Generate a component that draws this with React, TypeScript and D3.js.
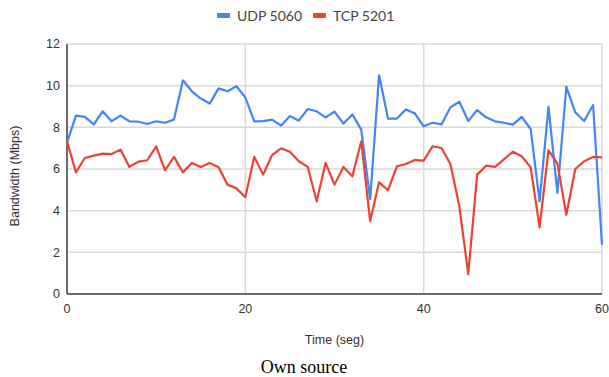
import React from "react";
import * as d3 from "d3";

// Seconds of the capture, one sample per second
const seconds: number[] = d3.range(0, 61);

// Measured bandwidth (Mbps) per second
const udp5060: number[] = [
  7.25, 8.56, 8.5, 8.14, 8.77, 8.29, 8.56, 8.29, 8.27, 8.16,
  8.29, 8.22, 8.37, 10.26, 9.73, 9.38, 9.14, 9.87, 9.73, 9.97,
  9.43, 8.29, 8.3, 8.37, 8.08, 8.54, 8.32, 8.88, 8.77, 8.48,
  8.75, 8.18, 8.62, 7.89, 4.55, 10.5, 8.42, 8.42, 8.86, 8.67,
  8.05, 8.22, 8.14, 8.96, 9.23, 8.3, 8.83, 8.48, 8.29, 8.22,
  8.13, 8.5, 7.92, 4.45, 8.98, 4.85, 9.94, 8.72, 8.3, 9.07,
  2.37,
];
const tcp5201: number[] = [
  7.33, 5.84, 6.53, 6.64, 6.74, 6.72, 6.93, 6.1, 6.35, 6.42,
  7.09, 5.94, 6.58, 5.84, 6.29, 6.1, 6.29, 6.08, 5.25, 5.07,
  4.64, 6.58, 5.73, 6.67, 6.99, 6.83, 6.37, 6.1, 4.45, 6.29,
  5.25, 6.1, 5.65, 7.33, 3.5, 5.36, 4.98, 6.13, 6.24, 6.43,
  6.4, 7.09, 7.01, 6.24, 4.21, 0.95, 5.73, 6.16, 6.1, 6.46,
  6.83, 6.61, 6.08, 3.2, 6.9, 6.26, 3.8, 6.0, 6.37, 6.58,
  6.56,
];

const seriesNames: string[] = ["UDP 5060", "TCP 5201"];
const seriesColors: string[] = ["#4285F4", "#EA4335"];
const xTicks: number[] = [0, 20, 40, 60];
const yTicks: number[] = [0, 2, 4, 6, 8, 10, 12];

const W = 609;
const H = 377;
const plot = { left: 67, right: 602, top: 44, bottom: 294 };
const sans = "'Liberation Sans', Arial, sans-serif";
const legendFont = "Lato, 'Liberation Sans', sans-serif";

export default function App() {
  const x = d3.scaleLinear().domain([0, 60]).range([plot.left, plot.right]);
  const y = d3.scaleLinear().domain([0, 12]).range([plot.bottom, plot.top]);

  const line = d3
    .line<number>()
    .x((_, i) => x(seconds[i]))
    .y((v) => y(v));

  const series = [udp5060, tcp5201];

  return (
    <svg
      width={W}
      height={H}
      style={{ position: "absolute", left: 0, top: 0, background: "#fff" }}
    >
      {/* horizontal grid */}
      {yTicks.map((t) => (
        <line
          key={"gy" + t}
          x1={plot.left}
          x2={plot.right}
          y1={y(t)}
          y2={y(t)}
          stroke="#d9d9d9"
          strokeWidth={1.5}
        />
      ))}
      {/* vertical grid */}
      {xTicks.map((t) => (
        <line
          key={"gx" + t}
          x1={x(t)}
          x2={x(t)}
          y1={plot.top}
          y2={plot.bottom}
          stroke="#d9d9d9"
          strokeWidth={1.5}
        />
      ))}
      {/* axes */}
      <line x1={plot.left} x2={plot.right} y1={plot.bottom} y2={plot.bottom} stroke="#444" strokeWidth={1.5} />
      <line x1={plot.left} x2={plot.left} y1={plot.top} y2={plot.bottom} stroke="#444" strokeWidth={1.5} />

      {/* y tick labels */}
      {yTicks.map((t) => (
        <text
          key={"ly" + t}
          x={plot.left - 7}
          y={y(t)}
          dy="0.35em"
          textAnchor="end"
          fontFamily={sans}
          fontSize={12.5}
          fill="#333"
        >
          {t}
        </text>
      ))}
      {/* x tick labels */}
      {xTicks.map((t) => (
        <text
          key={"lx" + t}
          x={x(t)}
          y={plot.bottom + 19}
          textAnchor="middle"
          fontFamily={sans}
          fontSize={12.5}
          fill="#333"
        >
          {t}
        </text>
      ))}

      {/* data lines */}
      {series.map((s, i) => (
        <path
          key={seriesNames[i]}
          d={line(s) ?? ""}
          fill="none"
          stroke={seriesColors[i]}
          strokeWidth={2.2}
          strokeLinejoin="round"
        />
      ))}

      {/* legend */}
      {seriesNames.map((name, i) => {
        const lx = i === 0 ? 217 : 313;
        return (
          <g key={"lg" + name}>
            <rect x={lx} y={13} width={13} height={5} rx={1} fill={seriesColors[i]} />
            <text
              x={lx + 20}
              y={16.5}
              dy="0.35em"
              fontFamily={legendFont}
              fontSize={14}
              fill="#444"
            >
              {name}
            </text>
          </g>
        );
      })}

      {/* axis titles */}
      <text
        x={(plot.left + plot.right) / 2}
        y={344}
        textAnchor="middle"
        fontFamily={sans}
        fontSize={12.5}
        fill="#333"
      >
        Time (seg)
      </text>
      <text
        transform={`translate(19, 176) rotate(-90)`}
        textAnchor="middle"
        fontFamily={sans}
        fontSize={12.5}
        fill="#333"
      >
        Bandwidth (Mbps)
      </text>

      {/* caption */}
      <text
        x={304}
        y={373}
        textAnchor="middle"
        fontFamily="'Liberation Serif', 'Times New Roman', serif"
        fontSize={18}
        fill="#000"
      >
        Own source
      </text>
    </svg>
  );
}
